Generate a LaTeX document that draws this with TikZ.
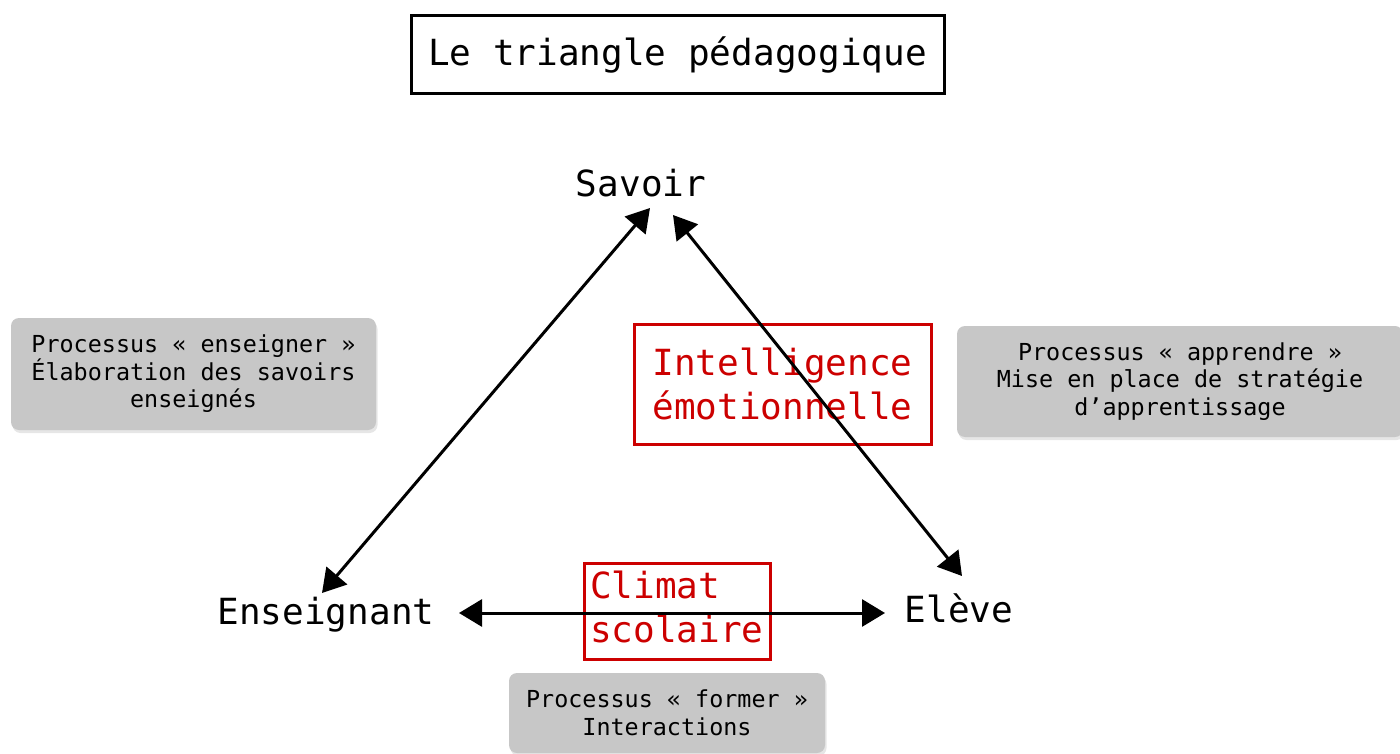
\documentclass[tikz,border=0pt]{standalone}
\usepackage{fontspec}
\setmainfont{DejaVu Sans Mono}
\usetikzlibrary{arrows.meta,shadows}
\definecolor{boxgray}{RGB}{199,199,199}
\definecolor{redc}{RGB}{204,0,0}
\begin{document}
\begin{tikzpicture}[x=1pt,y=-1pt,
  big/.style={font=\fontsize{36}{44}\selectfont},
  small/.style={font=\fontsize{23.4}{27.5}\selectfont},
  lbl/.style={big, anchor=base, inner sep=0pt},
  titlebox/.style={draw=black, line width=3pt, big, minimum width=533, minimum height=78, inner sep=0pt},
  graybox/.style={fill=boxgray, rounded corners=8pt, small, align=center, inner sep=0pt,
    drop shadow={opacity=0.2, shadow xshift=1.5pt, shadow yshift=-3pt}},
  redbox/.style={draw=redc, text=redc, line width=3pt, big, inner sep=0pt},
  arr/.style={{Triangle[length=23pt,width=27pt]}-{Triangle[length=23pt,width=27pt]}, line width=3pt, black},
]
\useasboundingbox (0,0) rectangle (1400,754);

\node[titlebox] (title) at (677.5,55) {Le triangle pédagogique};

\node[lbl] (savoir) at (641,197) {Savoir};
\node[lbl] (enseignant) at (326,624) {Enseignant};
\node[lbl] (eleve) at (959,622) {Elève};

\node[graybox, minimum width=365, minimum height=112] (enseigner) at (193.5,374)
  {Processus « enseigner »\\Élaboration des savoirs\\enseignés};
\node[graybox, minimum width=446, minimum height=111] (apprendre) at (1180,381.5)
  {Processus « apprendre »\\Mise en place de stratégie\\d’apprentissage};
\node[graybox, minimum width=316, minimum height=80] (former) at (667,713)
  {Processus « former »\\Interactions};

\node[redbox, minimum width=297, minimum height=120, align=center] (intel) at (782.5,384)
  {Intelligence\\émotionnelle};
\node[redbox, minimum width=186, minimum height=96, text width=174, align=left] (climat) at (677,611)
  {Climat\\scolaire\rule[-8pt]{0pt}{8pt}};

\coordinate (savL) at (650,208);
\coordinate (ensT) at (322,593);
\coordinate (savR) at (673,215);
\coordinate (eleT) at (962,576);
\coordinate (ensR) at (459,613);
\coordinate (eleL) at (885,613);

\draw[arr] (savL) -- (ensT);
\draw[arr] (savR) -- (eleT);
\draw[arr] (ensR) -- (eleL);
\end{tikzpicture}
\end{document}
